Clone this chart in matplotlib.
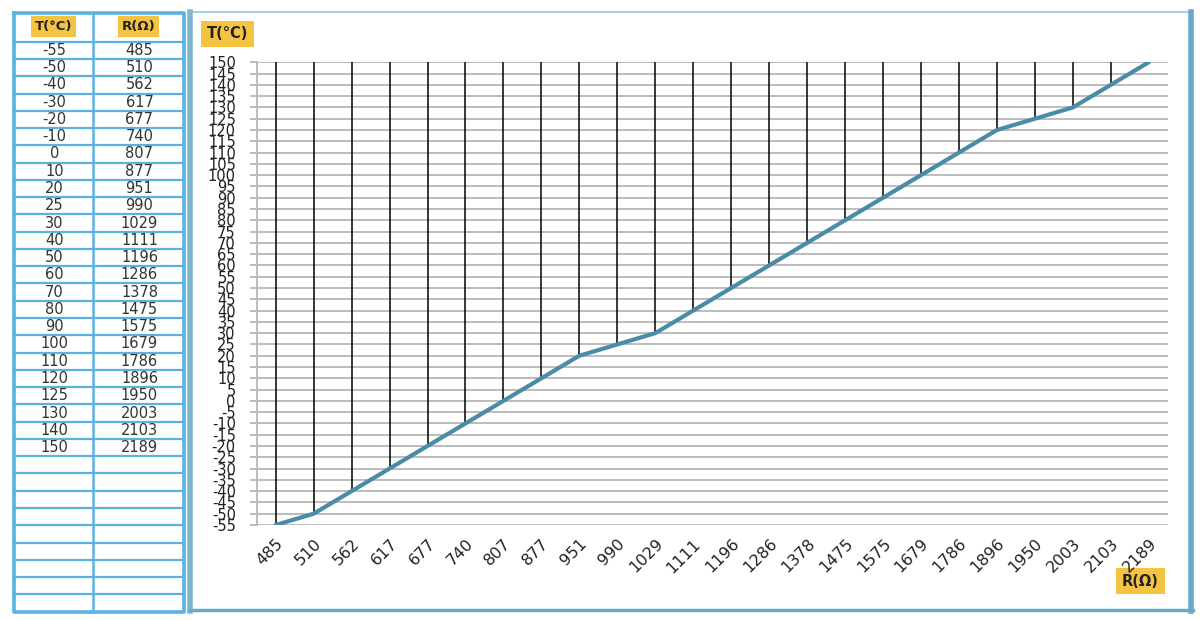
import numpy as np
import matplotlib
matplotlib.use("Agg")
import matplotlib.pyplot as plt

# ---- data ----
temps_c = [-55, -50, -40, -30, -20, -10, 0, 10, 20, 25, 30, 40, 50, 60, 70,
           80, 90, 100, 110, 120, 125, 130, 140, 150]
resist_ohm = [485, 510, 562, 617, 677, 740, 807, 877, 951, 990, 1029, 1111,
              1196, 1286, 1378, 1475, 1575, 1679, 1786, 1896, 1950, 2003,
              2103, 2189]
t_header = "T(°C)"
r_header = "R(Ω)"
y_min, y_max, y_step = -55, 150, 5
n_empty_rows = 9

W, H = 1200, 620
fig = plt.figure(figsize=(W / 100, H / 100), dpi=100)
fig.patch.set_facecolor("white")

# background layer in pixel coordinates
bg = fig.add_axes([0, 0, 1, 1])
bg.set_xlim(0, W)
bg.set_ylim(H, 0)
bg.axis("off")

tbl_col = "#5ab2e0"
frame_col = "#7cb6cf"
yellow = "#f5c342"

# ---- table ----
tx0, tx1, tx2 = 14, 93, 184
ty0, ty_head = 13, 41.7
row_h = 17.27
n_rows = len(temps_c) + n_empty_rows
ty_end = ty_head + n_rows * row_h
for i in range(n_rows + 1):
    y = ty_head + i * row_h
    bg.plot([tx0, tx2], [y, y], color=tbl_col, lw=1.6, solid_capstyle="butt")
bg.plot([tx1, tx1], [ty0, ty_end], color=tbl_col, lw=1.8)
bg.plot([tx0, tx0, tx2, tx2, tx0], [ty0, ty_end, ty_end, ty0, ty0],
        color=tbl_col, lw=2.6)

for i, (t, r) in enumerate(zip(temps_c, resist_ohm)):
    yc = ty_head + (i + 0.5) * row_h
    bg.text((tx0 + tx1) / 2 + 1, yc, str(t), ha="center", va="center",
            fontsize=10.5, color="#333333")
    bg.text((tx1 + tx2) / 2 + 1, yc, str(r), ha="center", va="center",
            fontsize=10.5, color="#333333")

hy = (ty0 + ty_head) / 2 - 0.5
bg.text((tx0 + tx1) / 2, hy, t_header, ha="center", va="center", fontsize=9.5,
        fontweight="bold", color="#222222",
        bbox=dict(boxstyle="square,pad=0.3", fc=yellow, ec="none"))
bg.text((tx1 + tx2) / 2, hy, r_header, ha="center", va="center", fontsize=9.5,
        fontweight="bold", color="#222222",
        bbox=dict(boxstyle="square,pad=0.3", fc=yellow, ec="none"))

# ---- chart frame ----
bg.plot([190, 1190], [12, 12], color="#a9d0e2", lw=1.5)
bg.plot([190, 190], [12, 611], color=frame_col, lw=4)
bg.plot([1191, 1191], [12, 611], color="#6aa8c4", lw=4)
bg.plot([190, 1193], [610, 610], color="#6aa8c4", lw=2.5)

# axis title boxes
bg.text(227.5, 34, t_header, ha="center", va="center", fontsize=10.5,
        fontweight="bold", color="#222222",
        bbox=dict(boxstyle="square,pad=0.4", fc=yellow, ec="none"))
bg.text(1140.5, 581, r_header, ha="center", va="center", fontsize=10.5,
        fontweight="bold", color="#222222",
        bbox=dict(boxstyle="square,pad=0.4", fc=yellow, ec="none"))

# ---- chart ----
left, right = 256.7, 1167.7
top, bottom = 62.3, 525.0
ax = fig.add_axes([left / W, (H - bottom) / H, (right - left) / W,
                   (bottom - top) / H])
ax.set_facecolor("none")

x = np.arange(len(resist_ohm))
ax.set_xlim(-0.5, len(resist_ohm) - 0.5)
ax.set_ylim(y_min, y_max)

yt = np.arange(y_min, y_max + 1, y_step)
ax.set_yticks(yt)
ax.set_yticklabels([str(v) for v in yt], fontsize=10.5, color="#222222")
ax.yaxis.grid(True, color="#bcbcbc", lw=1.4)
ax.set_axisbelow(True)
ax.tick_params(axis="y", length=5, width=1.4, color="#bcbcbc", pad=10)

ax.set_xticks(x)
ax.set_xticklabels([str(v) for v in resist_ohm], rotation=45, ha="right",
                   va="top", rotation_mode="anchor", fontsize=11.5,
                   color="#222222")
ax.tick_params(axis="x", length=0, pad=8)

for s in ["top", "right", "bottom"]:
    ax.spines[s].set_visible(False)
ax.spines["left"].set_color("#bcbcbc")
ax.spines["left"].set_linewidth(1.4)

# drop lines from each point up to the top
ax.vlines(x, temps_c, y_max, color="black", lw=1.1, zorder=2)
ax.plot(x, temps_c, color="#4a8ca8", lw=3, solid_capstyle="round",
        solid_joinstyle="round", zorder=3)

fig.savefig("out.png", dpi=100, facecolor="white")
